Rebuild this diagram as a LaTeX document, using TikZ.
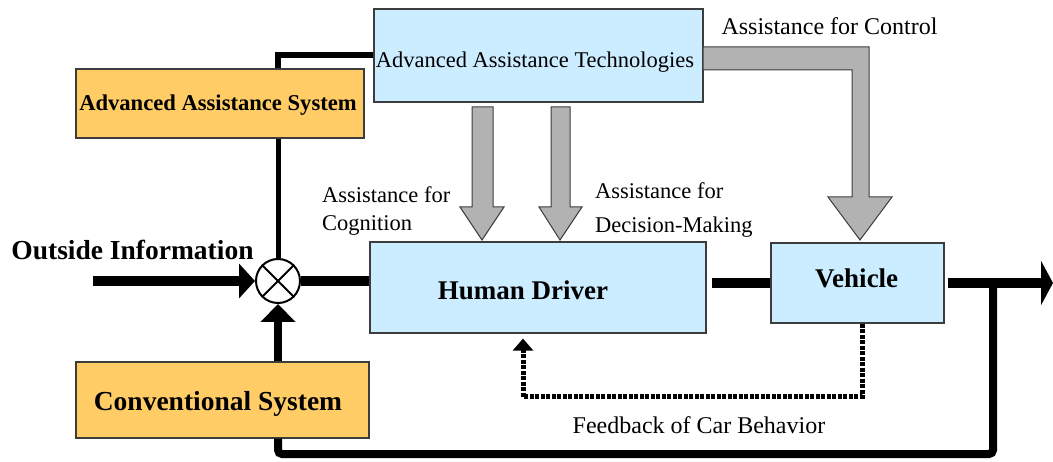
\documentclass[tikz,border=0pt]{standalone}
\usepackage{fontspec}
\setmainfont{Liberation Serif}
\usetikzlibrary{arrows.meta,calc}
\definecolor{boxblue}{RGB}{204,236,255}
\definecolor{boxorange}{RGB}{255,204,102}
\definecolor{arrowgray}{RGB}{178,178,178}
\definecolor{edgegray}{RGB}{60,60,60}
\begin{document}
\begin{tikzpicture}[x=1pt,y=-1pt,
  bluebox/.style={draw=edgegray, fill=boxblue, line width=1.2pt, inner sep=0pt},
  orangebox/.style={draw=edgegray, fill=boxorange, line width=1.2pt, inner sep=0pt},
  boxlabel/.style={font=\fontsize{27}{30}\selectfont\bfseries, inner sep=0pt},
  smalllabel/.style={font=\fontsize{22.5}{28}\selectfont, inner sep=0pt},
  thickline/.style={line width=10pt},
  medline/.style={line width=6pt},
  blockarrow/.style={fill=arrowgray, draw=edgegray, line width=1pt, line join=miter},
  fbline/.style={line width=5pt, dash pattern=on 4pt off 1.5pt},
]
\useasboundingbox (0,0) rectangle (1053,462);

% boxes
\node[bluebox, minimum width=329pt, minimum height=93pt] (aat) at (538.5,55.5) {};
\node[orangebox, minimum width=288pt, minimum height=69pt] (aas) at (220,103.5) {};
\node[orangebox, minimum width=293pt, minimum height=76pt] (cs) at (222.5,400) {};
\node[bluebox, minimum width=336pt, minimum height=91pt] (hd) at (538,287.5) {};
\node[bluebox, minimum width=173pt, minimum height=80pt] (veh) at (857.5,283) {};
\node[circle, draw, line width=2pt, fill=white, minimum size=44pt, inner sep=0pt] (sum) at (278,281) {};
\draw[line width=2pt] (sum.north west) -- (sum.south east) (sum.north east) -- (sum.south west);

% box texts
\node[smalllabel, anchor=base] (aattext) at (535,68) {Advanced Assistance Technologies};
\node[boxlabel, font=\fontsize{22.6}{26}\selectfont\bfseries, anchor=base] (aastext) at (218,111) {Advanced Assistance System};
\node[boxlabel, font=\fontsize{27.5}{30}\selectfont\bfseries, anchor=base] (cstext) at (218,411) {Conventional System};
\node[boxlabel, anchor=base] (hdtext) at (523,300) {Human Driver};
\node[boxlabel, anchor=base] (vehtext) at (856.7,288) {Vehicle};
\node[boxlabel, font=\fontsize{27.5}{30}\selectfont\bfseries, anchor=base] (oitext) at (132.5,260) {Outside Information};

% labels
\node[smalllabel, font=\fontsize{24}{28}\selectfont, anchor=base] (ctrltext) at (829.5,35) {Assistance for Control};
\node[smalllabel, anchor=north west, align=left] (cogtext) at (322,186) {Assistance for\\Cognition};
\node[smalllabel, font=\fontsize{22.5}{34}\selectfont, anchor=north west, align=left] (dectext) at (595,182) {Assistance for\\Decision-Making};
\node[smalllabel, font=\fontsize{24}{28}\selectfont, anchor=base] (fbtext) at (699,433) {Feedback of Car Behavior};

% block arrows
\draw[blockarrow] (472,107) -- (493,107) -- (493,207) -- (504,207) -- (482,240) -- (460,207) -- (472,207) -- cycle;
\draw[blockarrow] (551,107) -- (570,107) -- (570,207) -- (582,207) -- (560,240) -- (539,207) -- (551,207) -- cycle;
\draw[blockarrow] (703,47) -- (869,47) -- (869,197) -- (892,197) -- (860,240) -- (828,197) -- (852,197) -- (852,70) -- (703,70) -- cycle;

% connectors
\coordinate (oin) at (93,281);
\draw[thickline, -{Triangle[length=16pt,width=34pt]}] (oin) -- (sum.west);
\draw[thickline] (sum.east) -- (sum.east -| hd.west);
\draw[line width=5pt] (aas.south -| sum.north) -- (sum.north);
\draw[medline] (aas.north -| sum.north) |- (aat.west);
\draw[line width=8pt, -{Triangle[length=18pt,width=34pt]}] (cs.north -| sum.south) -- (sum.south);
\coordinate (tap) at (993,283);
\coordinate (lowright) at (993,454);
\draw[line width=8pt, rounded corners=4pt] (cs.south -| sum.south) |- (lowright) -- (tap);
\draw[thickline] ($(veh.west -| hd.east)+(5,0)$) -- (veh.west);
\coordinate (out) at (1053,283);
\draw[thickline, -{Triangle[length=12pt,width=44pt]}] ($(veh.east)+(3,0)$) -- (out);
\coordinate (fb1) at (862,397);
\coordinate (fb2) at (523,397);
\draw[fbline, -{Triangle[length=12pt,width=20pt]}, shorten >=5pt] (veh.south -| fb1) -- (fb1) -- (fb2) -- (hd.south -| fb2);
\end{tikzpicture}
\end{document}
